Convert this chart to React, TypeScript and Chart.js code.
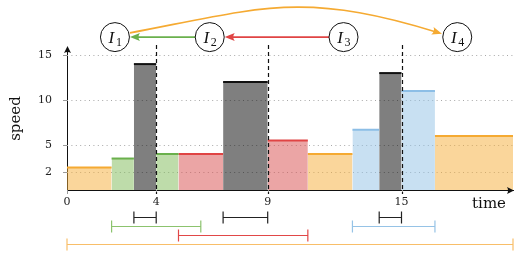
import React, { useEffect, useRef } from 'react';
import { Chart, registerables } from 'chart.js';
Chart.register(...registerables);

// Step segments of the speed profile
const segStart = [0, 2, 3, 4, 5, 7, 9, 10.8, 12.8, 14, 15, 16.5];
const segEnd = [2, 3, 4, 5, 7, 9, 10.8, 12.8, 14, 15, 16.5, 20];
const segSpeed = [2.5, 3.5, 14, 4, 4, 12, 5.5, 4, 6.7, 13, 11, 6];
const segTask = ['I4', 'I1', 'busy', 'I1', 'I2', 'busy', 'I2', 'I4', 'I3', 'busy', 'I3', 'I4'];

const xTickValues = [0, 4, 9, 15];
const yTickValues = [2, 5, 10, 15];
const markerTimes = [4, 9, 15];

// Interval brackets under the axis
const intervalStart = [3, 7, 14, 2, 12.8, 5, 0];
const intervalEnd = [4, 9, 15, 6, 16.5, 10.8, 20];
const intervalTask = ['busy', 'busy', 'busy', 'I1', 'I3', 'I2', 'I4'];

// Nodes above the chart
const nodeNames = ['I1', 'I2', 'I3', 'I4'];
const nodeTime = [2.15, 6.4, 12.4, 17.5];
const nodeLevel = 17;
const edgeFrom = ['I2', 'I3', 'I1'];
const edgeTo = ['I1', 'I2', 'I4'];

const palette: Record<string, { line: string; fill: string; bracket: string }> = {
  I1: { line: 'rgb(106,176,76)', fill: 'rgba(125,185,85,0.5)', bracket: 'rgb(140,195,110)' },
  I2: { line: 'rgb(224,68,68)', fill: 'rgba(215,75,75,0.5)', bracket: 'rgb(225,72,72)' },
  I3: { line: 'rgb(140,190,230)', fill: 'rgba(145,193,229,0.5)', bracket: 'rgb(150,195,230)' },
  I4: { line: 'rgb(245,170,50)', fill: 'rgba(245,173,55,0.5)', bracket: 'rgb(248,190,105)' },
  busy: { line: '#111', fill: 'rgba(0,0,0,0.5)', bracket: '#222' },
};
const bracketRowOf: Record<string, number> = { busy: 0, I1: 1, I3: 1, I2: 2, I4: 3 };

const SERIF = '"DejaVu Serif", serif';
const LSERIF = '"Liberation Serif", serif';

function arrowHead(ctx: CanvasRenderingContext2D, x: number, y: number, ang: number, len: number, hw: number, color: string) {
  ctx.save();
  ctx.translate(x, y);
  ctx.rotate(ang);
  ctx.beginPath();
  ctx.moveTo(0, 0);
  ctx.lineTo(-len, -hw);
  ctx.quadraticCurveTo(-len * 0.7, 0, -len, hw);
  ctx.closePath();
  ctx.fillStyle = color;
  ctx.fill();
  ctx.restore();
}

const decor = {
  id: 'decor',
  beforeDatasetsDraw(chart: any) {
    const { ctx, chartArea: a, scales } = chart;
    const x = scales.x, y = scales.y;
    ctx.save();
    ctx.lineWidth = 1;
    ctx.strokeStyle = '#a8a8a8';
    ctx.setLineDash([1, 3.4]);
    yTickValues.forEach((v) => {
      const py = Math.round(y.getPixelForValue(v)) + 0.5;
      ctx.beginPath();
      ctx.moveTo(a.left, py);
      ctx.lineTo(a.right, py);
      ctx.stroke();
    });
    ctx.setLineDash([]);
    ctx.strokeStyle = '#999';
    yTickValues.forEach((v) => {
      const py = Math.round(y.getPixelForValue(v)) + 0.5;
      ctx.beginPath();
      ctx.moveTo(a.left - 4, py);
      ctx.lineTo(a.left, py);
      ctx.stroke();
    });
    xTickValues.forEach((v) => {
      const px = Math.round(x.getPixelForValue(v)) + 0.5;
      ctx.beginPath();
      ctx.moveTo(px, a.bottom);
      ctx.lineTo(px, a.bottom + 4);
      ctx.stroke();
    });
    ctx.restore();
  },
  afterDraw(chart: any) {
    const { ctx, chartArea: a, scales } = chart;
    const x = scales.x, y = scales.y;
    ctx.save();

    // dashed markers
    ctx.strokeStyle = '#111';
    ctx.lineWidth = 1.2;
    ctx.setLineDash([4, 3]);
    markerTimes.forEach((t) => {
      const px = Math.round(x.getPixelForValue(t)) + 0.5;
      ctx.beginPath();
      ctx.moveTo(px, a.top - 2);
      ctx.lineTo(px, a.bottom + 4);
      ctx.stroke();
    });
    ctx.setLineDash([]);

    // axis arrows
    arrowHead(ctx, a.right + 1, a.bottom + 0.5, 0, 7, 3.5, '#111');
    arrowHead(ctx, a.left + 0.5, a.top - 1, -Math.PI / 2, 7, 3.5, '#111');

    // brackets
    ctx.lineWidth = 1.2;
    intervalStart.forEach((s, i) => {
      const task = intervalTask[i];
      const row = bracketRowOf[task];
      const py = Math.round(a.bottom + 26.5 + row * 9) + 0.5;
      const x0 = x.getPixelForValue(s);
      const x1 = x.getPixelForValue(intervalEnd[i]);
      ctx.strokeStyle = palette[task].bracket;
      ctx.beginPath();
      ctx.moveTo(x0, py); ctx.lineTo(x1, py);
      ctx.moveTo(x0, py - 6); ctx.lineTo(x0, py + 6);
      ctx.moveTo(x1, py - 6); ctx.lineTo(x1, py + 6);
      ctx.stroke();
    });

    // nodes
    const r = 14.5;
    const cy = y.getPixelForValue(nodeLevel);
    const cx: Record<string, number> = {};
    nodeNames.forEach((n, i) => { cx[n] = x.getPixelForValue(nodeTime[i]); });

    // straight edges and curve
    edgeFrom.forEach((f, i) => {
      const t = edgeTo[i];
      const color = palette[t].line;
      ctx.strokeStyle = color;
      ctx.lineWidth = 1.6;
      if (Math.abs(nodeNames.indexOf(f) - nodeNames.indexOf(t)) === 1) {
        const dir = cx[t] < cx[f] ? -1 : 1;
        const sx = cx[f] + dir * r;
        const tx = cx[t] - dir * r - dir * 0.5;
        ctx.beginPath();
        ctx.moveTo(sx, cy);
        ctx.lineTo(tx - dir * 6, cy);
        ctx.stroke();
        arrowHead(ctx, tx, cy, dir < 0 ? Math.PI : 0, 10, 4, color);
      } else {
        const sx = cx[f] + 15, sy = cy - 4.2;
        const ex = cx[t] - 15.3, ey = cy - 3.4;
        const c1x = sx + 130, c1y = sy - 24.7;
        const c2x = ex - 140, c2y = ey - 43.3;
        ctx.beginPath();
        ctx.moveTo(sx, sy);
        ctx.bezierCurveTo(c1x, c1y, c2x, c2y, ex - 5, ey - 1.5);
        ctx.stroke();
        arrowHead(ctx, ex, ey, Math.atan2(ey - c2y, ex - c2x), 10, 4, color);
      }
    });

    nodeNames.forEach((n) => {
      ctx.beginPath();
      ctx.arc(cx[n], cy, r, 0, Math.PI * 2);
      ctx.fillStyle = '#fff';
      ctx.fill();
      ctx.strokeStyle = '#111';
      ctx.lineWidth = 1;
      ctx.stroke();
      ctx.fillStyle = '#111';
      ctx.textBaseline = 'alphabetic';
      ctx.textAlign = 'center';
      ctx.font = `italic 17px ${LSERIF}`;
      ctx.fillText(n.charAt(0), cx[n] - 3.5, cy + 5.5);
      ctx.font = `12px ${LSERIF}`;
      ctx.fillText(n.slice(1), cx[n] + 4, cy + 8.5);
    });

    // axis titles
    ctx.fillStyle = '#111';
    ctx.font = `15px ${SERIF}`;
    ctx.textAlign = 'right';
    ctx.textBaseline = 'middle';
    ctx.fillText('time', a.right - 7, a.bottom + 14);
    ctx.save();
    ctx.translate(16, (a.top + a.bottom) / 2);
    ctx.rotate(-Math.PI / 2);
    ctx.textAlign = 'center';
    ctx.fillText('speed', 0, 0);
    ctx.restore();

    ctx.restore();
  },
};

export default function App() {
  const ref = useRef<HTMLCanvasElement | null>(null);
  useEffect(() => {
    if (!ref.current) return;
    const datasets = segStart.map((s, i) => ({
      type: 'line' as const,
      data: [{ x: s, y: segSpeed[i] }, { x: segEnd[i], y: segSpeed[i] }],
      borderColor: palette[segTask[i]].line,
      backgroundColor: palette[segTask[i]].fill,
      borderWidth: 2,
      fill: 'origin',
      pointRadius: 0,
      tension: 0,
      borderCapStyle: 'butt' as const,
    }));
    const chart = new Chart(ref.current, {
      type: 'line',
      data: { datasets: datasets as any },
      plugins: [decor],
      options: {
        animation: false,
        responsive: false,
        devicePixelRatio: 1,
        layout: { padding: { top: 47, left: 0, right: 1, bottom: 0 } },
        plugins: { legend: { display: false }, tooltip: { enabled: false }, title: { display: false } },
        scales: {
          x: {
            type: 'linear',
            min: 0,
            max: 20,
            afterFit: (s: any) => { s.height = 63; },
            afterBuildTicks: (s: any) => { s.ticks = xTickValues.map((v) => ({ value: v })); },
            grid: { display: false, drawTicks: false },
            border: { display: true, color: '#111', width: 1 },
            ticks: {
              autoSkip: false,
              maxRotation: 0,
              padding: 6,
              color: '#222',
              font: { family: SERIF, size: 11 },
              callback: (v: any) => String(v),
            },
          },
          y: {
            type: 'linear',
            min: 0,
            max: 15.9,
            afterFit: (s: any) => { s.width = 67; },
            afterBuildTicks: (s: any) => { s.ticks = yTickValues.map((v) => ({ value: v })); },
            grid: { display: false, drawTicks: false },
            border: { display: true, color: '#111', width: 1 },
            ticks: {
              autoSkip: false,
              padding: 15,
              color: '#222',
              font: { family: SERIF, size: 11 },
              callback: (v: any) => String(v),
            },
          },
        },
      } as any,
    });
    return () => chart.destroy();
  }, []);
  return (
    <div style={{ position: 'absolute', left: 0, top: 0, width: 514, height: 253, background: '#fff' }}>
      <canvas ref={ref} width={514} height={253} style={{ display: 'block', width: 514, height: 253 }} />
    </div>
  );
}
